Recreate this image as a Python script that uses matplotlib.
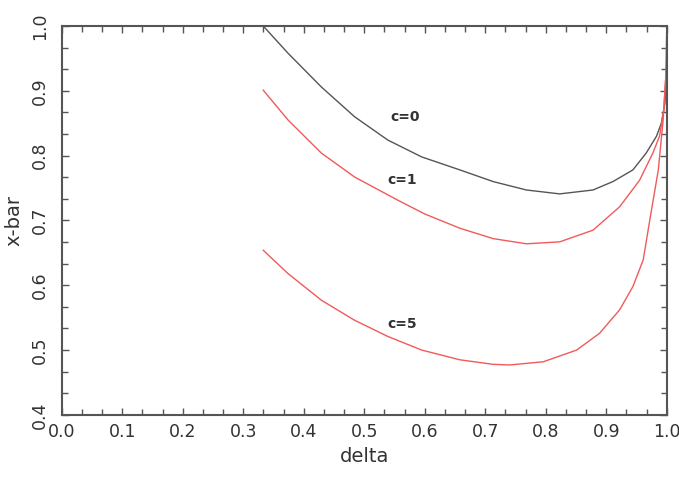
import numpy as np
import matplotlib
matplotlib.use("Agg")
import matplotlib.pyplot as plt
from matplotlib.ticker import MultipleLocator

# curves (delta, x-bar)
d_c0 = [0.333, 0.374, 0.429, 0.484, 0.539, 0.595, 0.658, 0.713, 0.768, 0.823,
        0.878, 0.911, 0.944, 0.966, 0.983, 0.991, 0.997, 1.0]
x_c0 = [1.000, 0.958, 0.906, 0.860, 0.824, 0.798, 0.778, 0.760, 0.747, 0.741,
        0.747, 0.760, 0.778, 0.804, 0.830, 0.850, 0.881, 0.950]

d_c1 = [0.333, 0.374, 0.429, 0.484, 0.556, 0.600, 0.658, 0.713, 0.768, 0.823,
        0.878, 0.922, 0.955, 0.977, 0.988, 0.995, 0.999, 1.0]
x_c1 = [0.901, 0.855, 0.804, 0.767, 0.731, 0.710, 0.688, 0.672, 0.664, 0.667,
        0.685, 0.721, 0.762, 0.804, 0.830, 0.870, 0.930, 1.000]

d_c5 = [0.333, 0.374, 0.429, 0.484, 0.539, 0.595, 0.658, 0.713, 0.740, 0.796,
        0.851, 0.889, 0.922, 0.944, 0.961, 0.972, 0.986, 0.994, 0.999, 1.0]
x_c5 = [0.654, 0.618, 0.577, 0.546, 0.521, 0.500, 0.485, 0.478, 0.477, 0.482,
        0.500, 0.526, 0.562, 0.598, 0.639, 0.701, 0.778, 0.855, 0.932, 1.000]

labels = ["c=0", "c=1", "c=5"]
label_pos = [(0.567, 0.860), (0.562, 0.762), (0.562, 0.540)]

fig = plt.figure(figsize=(6.79, 4.91), dpi=100)
ax = fig.add_axes([0.091, 0.155, 0.891, 0.792])

ax.plot(d_c0, x_c0, color="#555555", lw=1.0)
ax.plot(d_c1, x_c1, color="#f05a5a", lw=1.0)
ax.plot(d_c5, x_c5, color="#f05a5a", lw=1.0)

for t, (px, py) in zip(labels, label_pos):
    ax.text(px, py, t, fontsize=10, fontweight="bold", color="#333333",
            ha="center", va="center")

ax.set_xlim(0, 1)
ax.set_ylim(0.4, 1.0)
ax.xaxis.set_major_locator(MultipleLocator(0.1))
ax.xaxis.set_minor_locator(MultipleLocator(0.1 / 3))
ax.yaxis.set_major_locator(MultipleLocator(0.1))
ax.yaxis.set_minor_locator(MultipleLocator(0.1 / 3))
ax.xaxis.set_major_formatter(plt.FormatStrFormatter("%.1f"))
ax.yaxis.set_major_formatter(plt.FormatStrFormatter("%.1f"))
ax.tick_params(which="both", direction="in", top=True, right=True, color="#555555")
ax.tick_params(which="major", length=5, width=1)
ax.tick_params(which="minor", length=4, width=1)
ax.tick_params(axis="x", labelsize=12.5, pad=6, labelcolor="#333333")
ax.tick_params(axis="y", labelsize=12.5, pad=9, labelcolor="#333333", labelrotation=90)
for lab in ax.get_yticklabels():
    lab.set_va("center")
for s in ax.spines.values():
    s.set_color("#555555")
    s.set_linewidth(1.5)

ax.set_xlabel("delta", fontsize=14, color="#333333", labelpad=4)
ax.set_ylabel("x-bar", fontsize=14, color="#333333", labelpad=6)

fig.savefig("out.png", dpi=100)
